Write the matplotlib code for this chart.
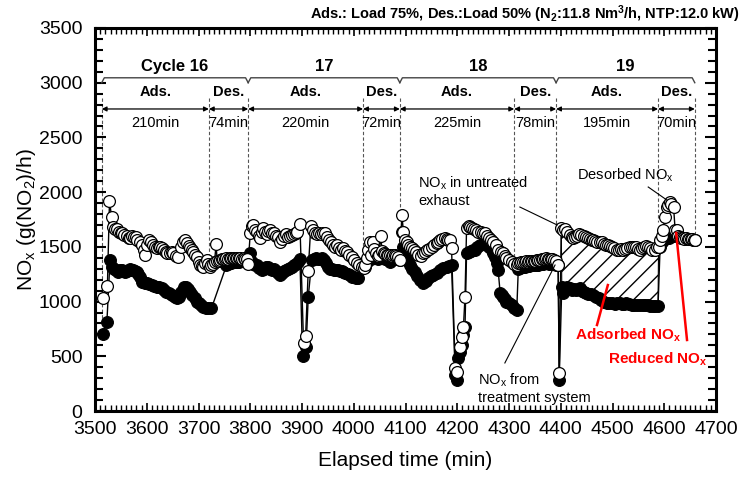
import matplotlib
matplotlib.use("Agg")
import matplotlib.pyplot as plt
import numpy as np

plt.rcParams['font.family'] = ['Liberation Sans', 'DejaVu Sans']
plt.rcParams['mathtext.default'] = 'regular'

# NOx in untreated exhaust (open circles): elapsed time (min), g(NO2)/h
untreated_t = [3516, 3524, 3528, 3532, 3535, 3539, 3542, 3546, 3550, 3553, 3557, 3561, 3565, 3568,
               3572, 3575, 3579, 3582, 3586, 3590, 3594, 3597, 3601, 3605, 3609, 3613, 3616, 3619,
               3623, 3626, 3630, 3633, 3637, 3640, 3645, 3648, 3651, 3656, 3661, 3666, 3671, 3674,
               3677, 3681, 3684, 3687, 3690, 3694, 3697, 3700, 3702, 3706, 3709, 3713, 3716, 3719, 3722,
               3725, 3728, 3731, 3734, 3736, 3739, 3742, 3745, 3748, 3751, 3754, 3757, 3760, 3763,
               3766, 3769, 3772, 3775, 3778, 3781, 3784, 3787, 3790, 3793, 3796,
               3800, 3803, 3806, 3810, 3813, 3816, 3819, 3822, 3825, 3829, 3832, 3835, 3838, 3842,
               3845, 3849, 3853, 3857, 3861, 3865, 3869, 3873, 3877, 3881, 3885, 3888, 3891, 3896,
               3903, 3907, 3912, 3917, 3921, 3925, 3929, 3932, 3936, 3940, 3944, 3948, 3952, 3956,
               3960, 3964, 3967, 3971, 3975, 3980, 3983, 3986, 3991, 3996, 4001, 4006, 4010, 4015, 4019,
               4022, 4025, 4028, 4031, 4034, 4037, 4040, 4043, 4046, 4049, 4052, 4055, 4058, 4061,
               4064, 4067, 4070, 4073, 4076, 4079, 4082, 4085, 4089,
               4093, 4096, 4099, 4102, 4105, 4109, 4112, 4116, 4120, 4125, 4129, 4133, 4138, 4142,
               4146, 4151, 4155, 4160, 4163, 4167, 4171, 4176, 4180, 4183, 4186, 4189, 4196, 4199,
               4205, 4209, 4212, 4215, 4218, 4222, 4225, 4229, 4233, 4237, 4241, 4245, 4249, 4254,
               4258, 4262, 4266, 4270, 4274, 4279, 4284, 4289, 4292, 4295, 4300, 4305, 4310, 4315,
               4318, 4321, 4324, 4327, 4330, 4333, 4336, 4339, 4342, 4345, 4348, 4351, 4354, 4357,
               4360, 4363, 4366, 4369, 4372, 4375, 4378, 4381, 4384, 4387, 4391, 4395, 4397,
               4401, 4405, 4409, 4413, 4417, 4421, 4424, 4428, 4432, 4436, 4440, 4444, 4448, 4452,
               4456, 4460, 4463, 4467, 4471, 4475, 4479, 4483, 4487, 4491, 4495, 4499, 4503, 4508,
               4512, 4516, 4520, 4524, 4528, 4533, 4537, 4541, 4545, 4549, 4553, 4557, 4561, 4565,
               4569, 4573, 4577, 4582, 4586, 4589,
               4592, 4595, 4598, 4601, 4605, 4608, 4611, 4614, 4618, 4621, 4624, 4627, 4630, 4633,
               4636, 4639, 4642, 4645, 4648, 4651, 4654, 4657, 4659]
untreated_v = [1035, 1145, 1920, 1775, 1685, 1665, 1660, 1640, 1625, 1625, 1610, 1600, 1580, 1578,
               1595, 1590, 1590, 1560, 1547, 1517, 1470, 1426, 1520, 1563, 1540, 1517, 1495, 1486,
               1500, 1502, 1485, 1471, 1455, 1447, 1441, 1450, 1441, 1420, 1405, 1500, 1547, 1560,
               1532, 1505, 1486, 1470, 1456, 1430, 1404, 1365, 1334, 1325, 1319, 1350, 1380, 1345, 1319,
               1330, 1345, 1360, 1526, 1375, 1370, 1380, 1385, 1390, 1392, 1395, 1393, 1396, 1398,
               1397, 1395, 1398, 1400, 1397, 1395, 1393, 1395, 1392, 1390, 1345,
               1624, 1690, 1700, 1650, 1640, 1600, 1578, 1640, 1669, 1640, 1620, 1645, 1654, 1630,
               1625, 1600, 1590, 1547, 1575, 1600, 1620, 1590, 1600, 1610, 1620, 1625, 1639, 1706,
               618, 688, 1279, 1690, 1650, 1624, 1620, 1630, 1615, 1625, 1624, 1590, 1560, 1540,
               1520, 1502, 1517, 1490, 1470, 1486, 1460, 1456, 1430, 1410, 1380, 1350, 1330, 1319, 1304,
               1330, 1400, 1470, 1540, 1430, 1547, 1480, 1440, 1420, 1430, 1600, 1460, 1440, 1435,
               1430, 1425, 1430, 1420, 1425, 1430, 1420, 1410, 1380,
               1791, 1640, 1563, 1540, 1517, 1495, 1486, 1470, 1455, 1426, 1420, 1440, 1456, 1470,
               1480, 1502, 1515, 1532, 1545, 1563, 1570, 1578, 1570, 1565, 1563, 1486, 390, 360,
               588, 679, 770, 1045, 1669, 1690, 1684, 1670, 1660, 1654, 1640, 1635, 1628, 1624,
               1600, 1580, 1560, 1547, 1520, 1471, 1450, 1441, 1420, 1395, 1380, 1365, 1345, 1334,
               1350, 1355, 1360, 1362, 1365, 1368, 1365, 1370, 1372, 1375, 1372, 1375, 1378, 1380,
               1382, 1385, 1390, 1392, 1395, 1392, 1390, 1388, 1385, 1380, 1375, 1334, 344,
               1672, 1654, 1660, 1640, 1610, 1590, 1578, 1590, 1600, 1615, 1608, 1600, 1590, 1580,
               1570, 1565, 1563, 1550, 1540, 1545, 1540, 1530, 1520, 1515, 1505, 1500, 1490, 1471,
               1475, 1480, 1470, 1480, 1490, 1500, 1502, 1500, 1495, 1480, 1471, 1490, 1500, 1505,
               1495, 1485, 1475, 1471, 1500, 1502,
               1563, 1600, 1654, 1776, 1867, 1880, 1913, 1890, 1867, 1655, 1650, 1600, 1590, 1585,
               1580, 1575, 1580, 1575, 1570, 1572, 1568, 1565, 1563]

# NOx from treatment system (filled circles)
treated_t = [3516, 3523, 3529, 3533, 3537, 3541, 3545, 3549, 3552, 3555, 3558, 3562, 3565, 3568,
             3571, 3574, 3578, 3581, 3584, 3587, 3590, 3593, 3596, 3600, 3605, 3610, 3614, 3619,
             3624, 3629, 3633, 3638, 3643, 3648, 3654, 3659, 3663, 3667, 3672, 3676, 3680, 3684,
             3688, 3693, 3697, 3700, 3705, 3709, 3714, 3719, 3725,
             3754, 3757, 3760, 3763, 3766, 3769, 3772, 3775, 3778, 3781, 3784, 3787, 3790, 3793, 3796,
             3800, 3803, 3806, 3810, 3813, 3817, 3822, 3826, 3830, 3834, 3838, 3842, 3846, 3850,
             3854, 3857, 3861, 3865, 3869, 3873, 3877, 3881, 3885, 3889, 3893, 3896, 3901, 3908,
             3912, 3919, 3923, 3927, 3931, 3935, 3938, 3942, 3946, 3950, 3954, 3958, 3961, 3965,
             3969, 3973, 3977, 3980, 3984, 3988, 3992, 3996, 4000, 4004, 4009,
             4022, 4025, 4028, 4031, 4034, 4037, 4040, 4043, 4046, 4049, 4052, 4055, 4058, 4061,
             4064, 4067, 4070, 4073, 4076, 4079, 4082, 4085, 4089,
             4093, 4096, 4099, 4104, 4109, 4113, 4118, 4123, 4128, 4134, 4139, 4144, 4149, 4154,
             4160, 4167, 4173, 4180, 4185, 4189, 4196, 4199, 4202, 4205, 4209, 4212, 4215, 4218,
             4222, 4226, 4230, 4234, 4239, 4244, 4249, 4254, 4258, 4262, 4267, 4270, 4273, 4276,
             4279, 4283, 4286, 4289, 4292, 4295, 4300, 4305, 4310, 4315,
             4318, 4321, 4324, 4327, 4330, 4333, 4336, 4339, 4342, 4345, 4348, 4351, 4354, 4357,
             4360, 4363, 4366, 4369, 4372, 4375, 4378, 4381, 4384, 4387, 4391, 4395, 4397,
             4402, 4405, 4409, 4413, 4417, 4421, 4425, 4429, 4433, 4437, 4441, 4445, 4449, 4453,
             4458, 4463, 4468, 4473, 4478, 4484, 4489, 4494, 4499, 4504, 4509, 4514, 4519, 4523,
             4527, 4532, 4537, 4542, 4547, 4553, 4558, 4563, 4568, 4573, 4578, 4583, 4588,
             4592, 4595, 4598, 4601, 4604, 4607, 4610, 4613, 4616, 4619, 4622, 4625, 4628, 4631,
             4634, 4637, 4640, 4643, 4646, 4649, 4652, 4655, 4659]
treated_v = [701, 816, 1380, 1319, 1295, 1285, 1273, 1285, 1288, 1280, 1273, 1280, 1290, 1295,
             1290, 1288, 1275, 1273, 1255, 1227, 1182, 1175, 1170, 1167, 1160, 1151, 1145, 1136,
             1130, 1121, 1105, 1090, 1075, 1060, 1045, 1030, 1040, 1090, 1130, 1136, 1115, 1090,
             1060, 1030, 1000, 984, 965, 953, 945, 938, 938,
             1330, 1345, 1352, 1355, 1358, 1360, 1362, 1365, 1365, 1368, 1370, 1368, 1370, 1372, 1370,
             1441, 1365, 1340, 1335, 1330, 1310, 1288, 1300, 1320, 1315, 1300, 1290, 1300, 1280,
             1260, 1243, 1260, 1275, 1290, 1300, 1310, 1320, 1330, 1345, 1360, 1386, 506, 588,
             1039, 1380, 1390, 1395, 1390, 1392, 1395, 1380, 1350, 1320, 1300, 1295, 1288, 1290,
             1285, 1280, 1278, 1273, 1265, 1250, 1240, 1227, 1220, 1215, 1212,
             1320, 1360, 1380, 1400, 1390, 1395, 1400, 1395, 1392, 1398, 1405, 1400, 1395, 1390,
             1385, 1380, 1365, 1380, 1385, 1390, 1395, 1390, 1380,
             1639, 1500, 1410, 1370, 1334, 1300, 1273, 1235, 1197, 1167, 1190, 1212, 1230, 1243,
             1265, 1288, 1305, 1319, 1328, 1334, 330, 283, 481, 540, 603, 690, 770, 1441,
             1455, 1465, 1470, 1471, 1495, 1517, 1525, 1532, 1520, 1500, 1471, 1440, 1410, 1350,
             1288, 1075, 1060, 1045, 1020, 999, 985, 969, 945, 923,
             1300, 1310, 1315, 1318, 1320, 1322, 1325, 1328, 1330, 1332, 1330, 1333, 1335, 1338,
             1340, 1342, 1345, 1348, 1350, 1348, 1346, 1345, 1342, 1340, 1338, 1330, 283,
             1136, 1075, 1120, 1135, 1120, 1110, 1115, 1105, 1112, 1121, 1100, 1085, 1080, 1070,
             1065, 1060, 1045, 1030, 1015, 1000, 984, 990, 985, 980, 988, 985, 980, 978,
             984, 975, 972, 970, 972, 969, 968, 966, 965, 964, 962, 962, 960,
             1500, 1540, 1560, 1575, 1585, 1590, 1580, 1595, 1600, 1605, 1610, 1600, 1595, 1590,
             1585, 1580, 1578, 1575, 1572, 1570, 1568, 1566, 1565]

# phase boundaries, labels and durations
boundaries = [3513, 3720, 3796, 4018, 4089, 4310, 4391, 4588, 4659]
line_bottoms = [850, 1380, 1720, 1380, 1810, 1380, 1654, 1727, 1563]
phase_names = ['Ads.', 'Des.', 'Ads.', 'Des.', 'Ads.', 'Des.', 'Ads.', 'Des.']
durations = ['210min', '74min', '220min', '72min', '225min', '78min', '195min', '70min']
cycle_edges = [3513, 3796, 4089, 4391, 4659]
cycle_names = ['Cycle 16', '17', '18', '19']
hatch_range = (4401, 4589)

fig = plt.figure(figsize=(7.44, 4.80), dpi=100)
ax = fig.add_axes([95/744, 1 - 411/480, 621/744, 383/480])

ut, uv = np.array(untreated_t), np.array(untreated_v)
tt, tv = np.array(treated_t), np.array(treated_v)

# adsorbed NOx area (cycle 19)
mu = (ut >= hatch_range[0]) & (ut <= hatch_range[1])
mt = (tt >= hatch_range[0]) & (tt <= hatch_range[1])
ax.fill(np.r_[ut[mu], tt[mt][::-1]], np.r_[uv[mu], tv[mt][::-1]],
        facecolor='none', edgecolor='black', hatch='//', lw=0.8, zorder=1.5)

ax.plot(tt, tv, '-o', color='black', lw=1.0, ms=8.5, mfc='black', mec='black', mew=0.8, zorder=3)
ax.plot(ut, uv, '-o', color='black', lw=1.0, ms=8.5, mfc='white', mec='black', mew=0.9, zorder=4)

# phase markers
for b, bot in zip(boundaries, line_bottoms):
    ax.plot([b, b], [2860, bot], color='#555555', lw=0.8, ls=(0, (3, 2)), zorder=1)
for i in range(len(phase_names)):
    a, b = boundaries[i], boundaries[i + 1]
    ax.annotate('', xy=(b, 2760), xytext=(a, 2760),
                arrowprops=dict(arrowstyle='<|-|>', color='black', lw=0.9,
                                mutation_scale=7, shrinkA=0, shrinkB=0))
    ax.text((a + b) / 2, 2915, phase_names[i], ha='center', va='center',
            fontsize=10.5, fontweight='bold')
    ax.text((a + b) / 2, 2632, durations[i], ha='center', va='center', fontsize=10.5)

for i, name in enumerate(cycle_names):
    a, b = cycle_edges[i], cycle_edges[i + 1]
    ax.plot([a, a + 5, b - 5, b], [3000, 3045, 3045, 3000], color='#444444', lw=1.0)
    ax.text((a + b) / 2, 3145, name, ha='center', va='center', fontsize=12, fontweight='bold')

# annotations
ax.text(4124, 2010, 'NO$_x$ in untreated\nexhaust', ha='left', va='center', fontsize=10.5,
        linespacing=1.15)
ax.plot([4321, 4393], [1864, 1700], color='black', lw=0.8, zorder=5)
ax.text(4431, 2157, 'Desorbed NO$_x$', ha='left', va='center', fontsize=10.5)
ax.plot([4569, 4605], [2047, 1928], color='black', lw=0.8, zorder=5)
ax.text(4240, 210, 'NO$_x$ from\ntreatment system', ha='left', va='center', fontsize=10.5,
        linespacing=1.15)
ax.plot([4292, 4389], [439, 1334], color='black', lw=0.8, zorder=5)
ax.text(4427, 695, 'Adsorbed NO$_x$', ha='left', va='center', fontsize=11,
        fontweight='bold', color='red')
ax.plot([4470, 4491], [786, 1151], color='red', lw=1.8, zorder=5)
ax.text(4491, 475, 'Reduced NO$_x$', ha='left', va='center', fontsize=11,
        fontweight='bold', color='red')
ax.plot([4644, 4623], [649, 1627], color='red', lw=1.8, zorder=5)

ax.set_xlim(3500, 4700)
ax.set_ylim(0, 3500)
ax.set_xticks(np.arange(3500, 4701, 100))
ax.set_yticks(np.arange(0, 3501, 500))
ax.set_xticks(np.arange(3500, 4701, 10), minor=True)
ax.set_yticks(np.arange(0, 3501, 100), minor=True)
ax.tick_params(axis='both', which='both', direction='in', top=True, right=True, labelsize=14)
ax.tick_params(axis='x', which='major', length=6, width=1.2, pad=7)
ax.tick_params(axis='x', which='minor', length=4, width=1.0)
ax.tick_params(axis='y', which='major', length=8, width=1.5, pad=9)
ax.tick_params(axis='y', which='minor', length=6, width=1.5)
for s in ax.spines.values():
    s.set_linewidth(2.2)

ax.set_xlabel('Elapsed time (min)', fontsize=15)
ax.set_ylabel('NO$_x$ (g(NO$_2$)/h)', fontsize=15)
ax.xaxis.set_label_coords(0.5, -0.105)
ax.yaxis.set_label_coords(-0.092, 0.5)

fig.text(0.9946, 0.971, 'Ads.: Load 75%, Des.:Load 50% (N$_2$:11.8 Nm$^3$/h, NTP:12.0 kW)',
         ha='right', va='center', fontsize=10.5, fontweight='bold')

fig.savefig('out.png', dpi=100)
